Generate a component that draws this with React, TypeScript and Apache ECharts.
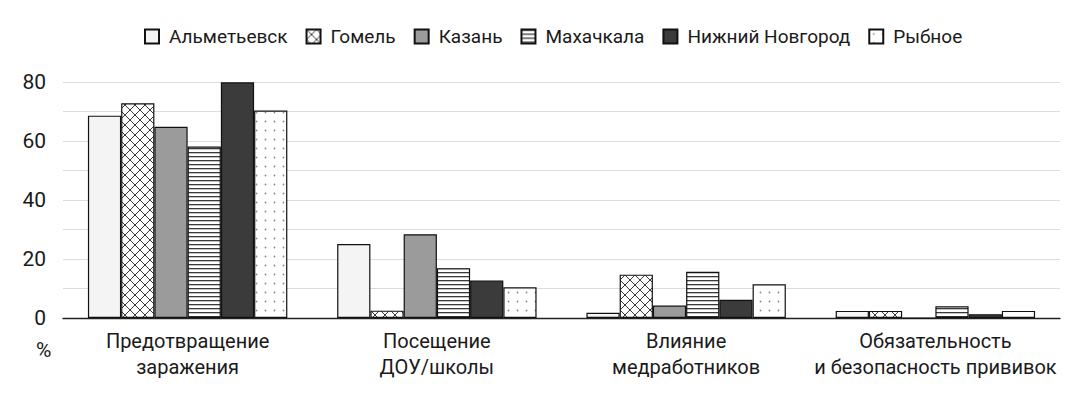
import React, { useEffect, useRef } from "react";
import * as echarts from "echarts";

const categories = [
  "Предотвращение\nзаражения",
  "Посещение\nДОУ/школы",
  "Влияние\nмедработников",
  "Обязательность\nи безопасность прививок",
];
const seriesNames = ["Альметьевск", "Гомель", "Казань", "Махачкала", "Нижний Новгород", "Рыбное"];
const almetyevsk = [68.6, 25.1, 1.8, 2.4];
const gomel = [72.8, 2.5, 14.7, 2.4];
const kazan = [64.8, 28.4, 4.2, 0];
const makhachkala = [58.1, 16.9, 15.7, 4.0];
const nizhny = [79.9, 12.7, 6.2, 1.3];
const rybnoe = [70.3, 10.4, 11.4, 2.4];
const yTicks = [0, 20, 40, 60, 80];

const FONT = "Roboto";

function makeCanvas(w: number, h: number, draw: (c: CanvasRenderingContext2D) => void) {
  const cv = document.createElement("canvas");
  cv.width = w;
  cv.height = h;
  const ctx = cv.getContext("2d")!;
  ctx.fillStyle = "#ffffff";
  ctx.fillRect(0, 0, w, h);
  draw(ctx);
  return cv;
}

function patterns() {
  const cross = makeCanvas(10, 10, (c) => {
    c.strokeStyle = "#3a3a3a";
    c.lineWidth = 1;
    c.beginPath();
    c.moveTo(-1, -1);
    c.lineTo(11, 11);
    c.moveTo(11, -1);
    c.lineTo(-1, 11);
    c.stroke();
  });
  const hlines = makeCanvas(4, 4, (c) => {
    c.fillStyle = "#3a3a3a";
    c.fillRect(0, 0, 4, 1.3);
  });
  const dots = makeCanvas(9, 9, (c) => {
    c.fillStyle = "#8a8a8a";
    c.beginPath();
    c.arc(4.5, 4.5, 0.9, 0, Math.PI * 2);
    c.fill();
  });
  return { cross, hlines, dots };
}

export default function App() {
  const ref = useRef<HTMLDivElement>(null);
  useEffect(() => {
    if (!ref.current) return;
    const chart = echarts.init(ref.current, undefined, { renderer: "svg" });
    const p = patterns();
    const fills: any[] = [
      "#f4f4f4",
      { image: p.cross, repeat: "repeat" },
      "#9b9b9b",
      { image: p.hlines, repeat: "repeat" },
      "#3b3b3b",
      { image: p.dots, repeat: "repeat" },
    ];
    const datas = [almetyevsk, gomel, kazan, makhachkala, nizhny, rybnoe];
    chart.setOption({
      animation: false,
      backgroundColor: "#ffffff",
      textStyle: { fontFamily: FONT },
      legend: {
        top: 22,
        left: 139,
        itemWidth: 14,
        itemHeight: 14,
        itemGap: 18,
        icon: "rect",
        textStyle: { fontFamily: FONT, fontSize: 19, color: "#1a1a1a", padding: [0, 0, 0, 5] },
        data: seriesNames,
      },
      grid: { left: 63, right: 26, top: 82, bottom: 77 },
      xAxis: {
        type: "category",
        data: categories,
        axisTick: { show: false },
        axisLine: { lineStyle: { color: "#222", width: 1.3 } },
        axisLabel: {
          fontFamily: FONT,
          fontSize: 20,
          color: "#1a1a1a",
          lineHeight: 26,
          margin: 10,
          interval: 0,
        },
      },
      yAxis: {
        type: "value",
        min: 0,
        max: 80,
        interval: 10,
        axisLine: { show: false },
        axisTick: { show: false },
        splitLine: { lineStyle: { color: "#dcdcdc", width: 1 } },
        axisLabel: {
          fontFamily: FONT,
          fontSize: 21,
          color: "#1a1a1a",
          margin: 17,
          formatter: (v: number) => (yTicks.includes(v) ? String(v) : ""),
        },
      },
      graphic: [
        {
          type: "text",
          left: 36,
          top: 339,
          style: { text: "%", fontFamily: FONT, fontSize: 21, fill: "#1a1a1a" },
        },
      ],
      series: seriesNames.map((name, i) => ({
        name,
        type: "bar",
        data: datas[i],
        barGap: "0%",
        barCategoryGap: "20%",
        itemStyle: { color: fills[i], borderColor: "#111", borderWidth: 1.2 },
      })),
    });
    return () => chart.dispose();
  }, []);
  return <div ref={ref} style={{ width: 1086, height: 395, position: "absolute", left: 0, top: 0 }} />;
}
